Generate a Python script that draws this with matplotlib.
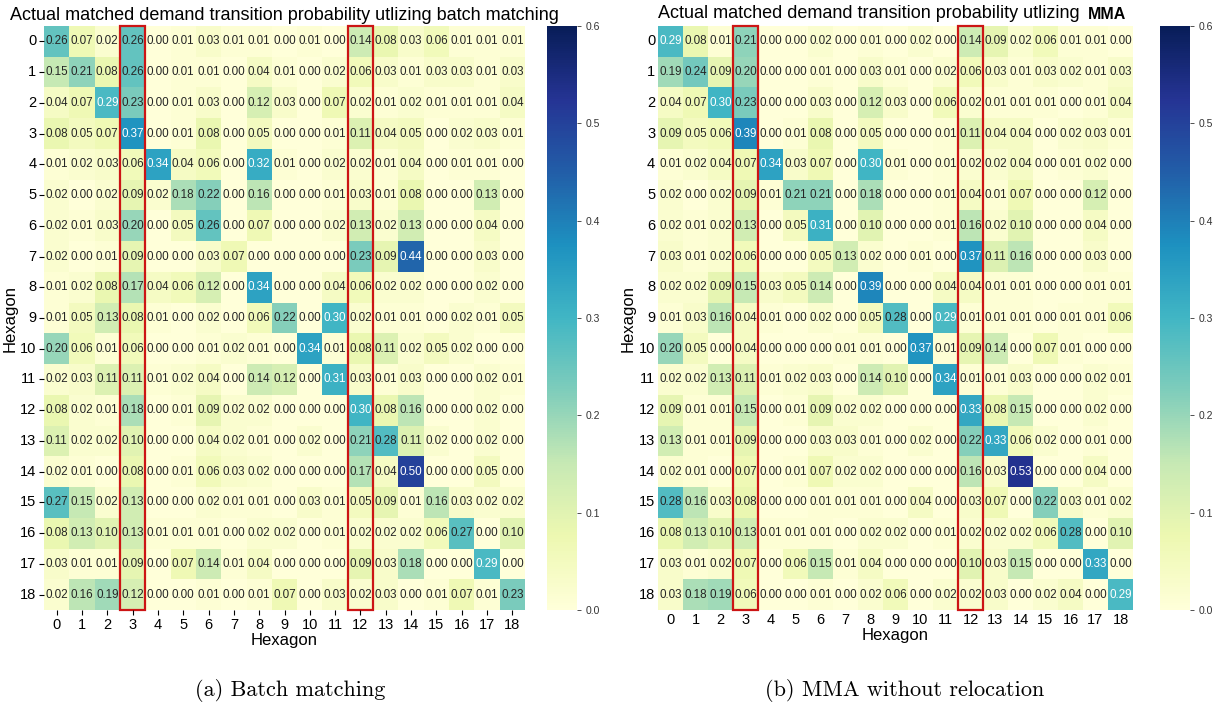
import matplotlib
matplotlib.use('Agg')
import matplotlib.pyplot as plt
from matplotlib.patches import Rectangle
import numpy as np
import seaborn as sns

hexagons = list(range(19))
highlight_cols = [3, 12]

batch_matching = [
    [0.26, 0.07, 0.02, 0.26, 0.00, 0.01, 0.03, 0.01, 0.01, 0.00, 0.01, 0.00, 0.14, 0.08, 0.03, 0.06, 0.01, 0.01, 0.01],
    [0.15, 0.21, 0.08, 0.26, 0.00, 0.01, 0.01, 0.00, 0.04, 0.01, 0.00, 0.02, 0.06, 0.03, 0.01, 0.03, 0.03, 0.01, 0.03],
    [0.04, 0.07, 0.29, 0.23, 0.00, 0.01, 0.03, 0.00, 0.12, 0.03, 0.00, 0.07, 0.02, 0.01, 0.02, 0.01, 0.01, 0.01, 0.04],
    [0.08, 0.05, 0.07, 0.37, 0.00, 0.01, 0.08, 0.00, 0.05, 0.00, 0.00, 0.01, 0.11, 0.04, 0.05, 0.00, 0.02, 0.03, 0.01],
    [0.01, 0.02, 0.03, 0.06, 0.34, 0.04, 0.06, 0.00, 0.32, 0.01, 0.00, 0.02, 0.02, 0.01, 0.04, 0.00, 0.01, 0.01, 0.00],
    [0.02, 0.00, 0.02, 0.09, 0.02, 0.18, 0.22, 0.00, 0.16, 0.00, 0.00, 0.01, 0.03, 0.01, 0.08, 0.00, 0.00, 0.13, 0.00],
    [0.02, 0.01, 0.03, 0.20, 0.00, 0.05, 0.26, 0.00, 0.07, 0.00, 0.00, 0.02, 0.13, 0.02, 0.13, 0.00, 0.00, 0.04, 0.00],
    [0.02, 0.00, 0.01, 0.09, 0.00, 0.00, 0.03, 0.07, 0.00, 0.00, 0.00, 0.00, 0.23, 0.09, 0.44, 0.00, 0.00, 0.03, 0.00],
    [0.01, 0.02, 0.08, 0.17, 0.04, 0.06, 0.12, 0.00, 0.34, 0.00, 0.00, 0.04, 0.06, 0.02, 0.02, 0.00, 0.00, 0.02, 0.00],
    [0.01, 0.05, 0.13, 0.08, 0.01, 0.00, 0.02, 0.00, 0.06, 0.22, 0.00, 0.30, 0.02, 0.01, 0.01, 0.00, 0.02, 0.01, 0.05],
    [0.20, 0.06, 0.01, 0.06, 0.00, 0.00, 0.01, 0.02, 0.01, 0.00, 0.34, 0.01, 0.08, 0.11, 0.02, 0.05, 0.02, 0.00, 0.00],
    [0.02, 0.03, 0.11, 0.11, 0.01, 0.02, 0.04, 0.00, 0.14, 0.12, 0.00, 0.31, 0.03, 0.01, 0.03, 0.00, 0.00, 0.02, 0.01],
    [0.08, 0.02, 0.01, 0.18, 0.00, 0.01, 0.09, 0.02, 0.02, 0.00, 0.00, 0.00, 0.30, 0.08, 0.16, 0.00, 0.00, 0.02, 0.00],
    [0.11, 0.02, 0.02, 0.10, 0.00, 0.00, 0.04, 0.02, 0.01, 0.00, 0.02, 0.00, 0.21, 0.28, 0.11, 0.02, 0.00, 0.02, 0.00],
    [0.02, 0.01, 0.00, 0.08, 0.00, 0.01, 0.06, 0.03, 0.02, 0.00, 0.00, 0.00, 0.17, 0.04, 0.50, 0.00, 0.00, 0.05, 0.00],
    [0.27, 0.15, 0.02, 0.13, 0.00, 0.00, 0.02, 0.01, 0.01, 0.00, 0.03, 0.01, 0.05, 0.09, 0.01, 0.16, 0.03, 0.02, 0.02],
    [0.08, 0.13, 0.10, 0.13, 0.01, 0.01, 0.01, 0.00, 0.02, 0.02, 0.00, 0.01, 0.02, 0.02, 0.02, 0.06, 0.27, 0.00, 0.10],
    [0.03, 0.01, 0.01, 0.09, 0.00, 0.07, 0.14, 0.01, 0.04, 0.00, 0.00, 0.00, 0.09, 0.03, 0.18, 0.00, 0.00, 0.29, 0.00],
    [0.02, 0.16, 0.19, 0.12, 0.00, 0.00, 0.01, 0.00, 0.01, 0.07, 0.00, 0.03, 0.02, 0.03, 0.00, 0.01, 0.07, 0.01, 0.23],
]

mma_no_relocation = [
    [0.29, 0.08, 0.01, 0.21, 0.00, 0.00, 0.02, 0.00, 0.01, 0.00, 0.02, 0.00, 0.14, 0.09, 0.02, 0.06, 0.01, 0.01, 0.00],
    [0.19, 0.24, 0.09, 0.20, 0.00, 0.00, 0.01, 0.00, 0.03, 0.01, 0.00, 0.02, 0.06, 0.03, 0.01, 0.03, 0.02, 0.01, 0.03],
    [0.04, 0.07, 0.30, 0.23, 0.00, 0.00, 0.03, 0.00, 0.12, 0.03, 0.00, 0.06, 0.02, 0.01, 0.01, 0.01, 0.00, 0.01, 0.04],
    [0.09, 0.05, 0.06, 0.39, 0.00, 0.01, 0.08, 0.00, 0.05, 0.00, 0.00, 0.01, 0.11, 0.04, 0.04, 0.00, 0.02, 0.03, 0.01],
    [0.01, 0.02, 0.04, 0.07, 0.34, 0.03, 0.07, 0.00, 0.30, 0.01, 0.00, 0.01, 0.02, 0.02, 0.04, 0.00, 0.01, 0.02, 0.00],
    [0.02, 0.00, 0.02, 0.09, 0.01, 0.21, 0.21, 0.00, 0.18, 0.00, 0.00, 0.01, 0.04, 0.01, 0.07, 0.00, 0.00, 0.12, 0.00],
    [0.02, 0.01, 0.02, 0.13, 0.00, 0.05, 0.31, 0.00, 0.10, 0.00, 0.00, 0.01, 0.16, 0.02, 0.10, 0.00, 0.00, 0.04, 0.00],
    [0.03, 0.01, 0.02, 0.06, 0.00, 0.00, 0.05, 0.13, 0.02, 0.00, 0.01, 0.00, 0.37, 0.11, 0.16, 0.00, 0.00, 0.03, 0.00],
    [0.02, 0.02, 0.09, 0.15, 0.03, 0.05, 0.14, 0.00, 0.39, 0.00, 0.00, 0.04, 0.04, 0.01, 0.01, 0.00, 0.00, 0.01, 0.01],
    [0.01, 0.03, 0.16, 0.04, 0.01, 0.00, 0.02, 0.00, 0.05, 0.28, 0.00, 0.29, 0.01, 0.01, 0.01, 0.00, 0.01, 0.01, 0.06],
    [0.20, 0.05, 0.00, 0.04, 0.00, 0.00, 0.00, 0.01, 0.01, 0.00, 0.37, 0.01, 0.09, 0.14, 0.00, 0.07, 0.01, 0.00, 0.00],
    [0.02, 0.02, 0.13, 0.11, 0.01, 0.02, 0.03, 0.00, 0.14, 0.10, 0.00, 0.34, 0.01, 0.01, 0.03, 0.00, 0.00, 0.02, 0.01],
    [0.09, 0.01, 0.01, 0.15, 0.00, 0.01, 0.09, 0.02, 0.02, 0.00, 0.00, 0.00, 0.33, 0.08, 0.15, 0.00, 0.00, 0.02, 0.00],
    [0.13, 0.01, 0.01, 0.09, 0.00, 0.00, 0.03, 0.03, 0.01, 0.00, 0.02, 0.00, 0.22, 0.33, 0.06, 0.02, 0.00, 0.01, 0.00],
    [0.02, 0.01, 0.00, 0.07, 0.00, 0.01, 0.07, 0.02, 0.02, 0.00, 0.00, 0.00, 0.16, 0.03, 0.53, 0.00, 0.00, 0.04, 0.00],
    [0.28, 0.16, 0.03, 0.08, 0.00, 0.00, 0.01, 0.01, 0.01, 0.00, 0.04, 0.00, 0.03, 0.07, 0.00, 0.22, 0.03, 0.01, 0.02],
    [0.08, 0.13, 0.10, 0.13, 0.01, 0.01, 0.01, 0.00, 0.02, 0.02, 0.00, 0.01, 0.02, 0.02, 0.02, 0.06, 0.28, 0.00, 0.10],
    [0.03, 0.01, 0.02, 0.07, 0.00, 0.06, 0.15, 0.01, 0.04, 0.00, 0.00, 0.00, 0.10, 0.03, 0.15, 0.00, 0.00, 0.33, 0.00],
    [0.03, 0.18, 0.19, 0.06, 0.00, 0.00, 0.01, 0.00, 0.02, 0.06, 0.00, 0.02, 0.02, 0.03, 0.00, 0.02, 0.04, 0.00, 0.29],
]

TITLE = 'Actual matched demand transition probability utlizing'
W, H = 1215, 713

plt.rcParams['font.family'] = ['Liberation Sans', 'DejaVu Sans']
fig = plt.figure(figsize=(W / 100, H / 100), dpi=100)


def px_axes(x0, x1, y0, y1):
    # pixel box (top-down) -> figure axes
    return fig.add_axes([x0 / W, (H - y1) / H, (x1 - x0) / W, (y1 - y0) / H])


def draw_panel(ax, cax, data, tick_len):
    sns.heatmap(np.array(data), ax=ax, cbar_ax=cax, cmap='YlGnBu', vmin=0, vmax=0.6,
                annot=True, fmt='.2f', annot_kws={'size': 8.4},
                xticklabels=hexagons, yticklabels=hexagons)
    ax.tick_params(axis='both', labelsize=10.5, length=tick_len, width=0.8, pad=2)
    ax.set_yticklabels(hexagons, rotation=0)
    ax.set_xticklabels(hexagons, rotation=0)
    ax.set_xlabel('Hexagon', fontsize=12, labelpad=1)
    ax.set_ylabel('Hexagon', fontsize=12, labelpad=2)
    for col in highlight_cols:
        ax.add_patch(Rectangle((col, 0), 1, len(hexagons), fill=False,
                               edgecolor='#cc1515', linewidth=1.6, clip_on=False))
    cax.tick_params(labelsize=7.5, length=3, width=0.6, colors='#333333')
    cax.set_yticks([0.0, 0.1, 0.2, 0.3, 0.4, 0.5, 0.6])


ax1 = px_axes(44, 525, 26, 610)
cax1 = px_axes(547, 577, 26, 610)
draw_panel(ax1, cax1, batch_matching, 3.5)
ax1.set_title(TITLE + ' batch matching', fontsize=13, pad=4)

ax2 = px_axes(658, 1133, 26, 610)
cax2 = px_axes(1160, 1190, 26, 610)
draw_panel(ax2, cax2, mma_no_relocation, 0)
t = ax2.text(0.0, 1.0 + 4 / 584, TITLE, transform=ax2.transAxes, ha='left', va='bottom',
             fontsize=13)
ax2.annotate('MMA', xy=(1, 0), xycoords=t, xytext=(6, 0), textcoords='offset points',
             ha='left', va='bottom', fontsize=11.5, fontweight='bold')

fig.text(290 / W, 1 - 690 / H, '(a) Batch matching', fontsize=16,
         family='cmr10', ha='center', va='center')
fig.text(905 / W, 1 - 690 / H, '(b) MMA without relocation', fontsize=16,
         family='cmr10', ha='center', va='center')

fig.savefig('out.png', dpi=100)
